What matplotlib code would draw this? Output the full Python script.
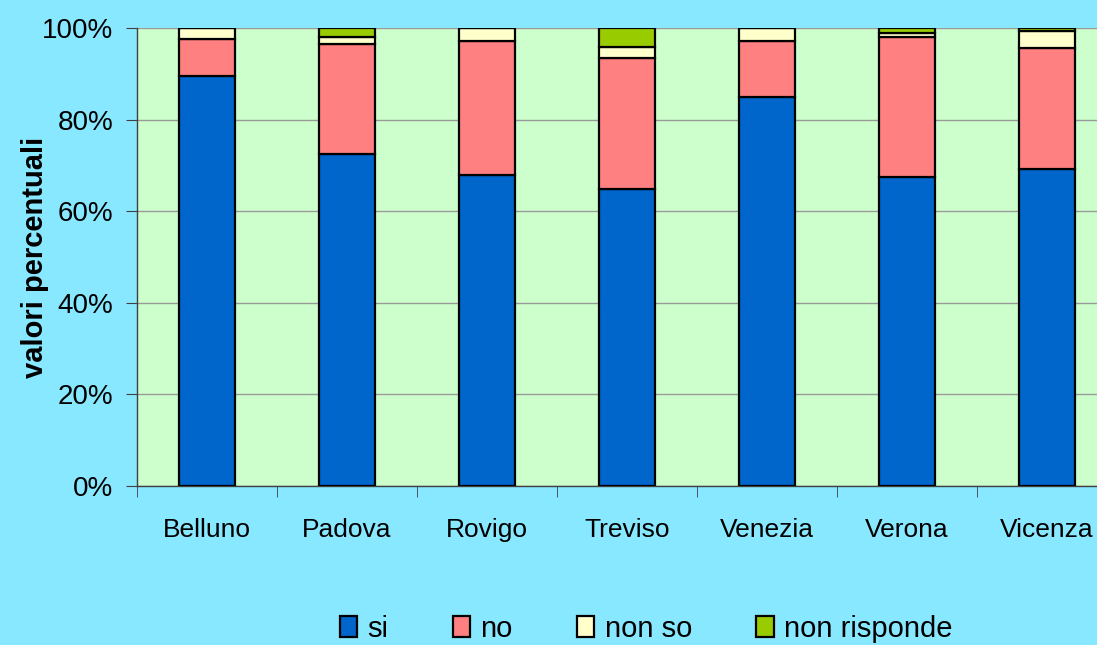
import numpy as np
from matplotlib import pyplot as plt
from matplotlib.ticker import FuncFormatter

plt.rcParams['font.family'] = ['Liberation Sans', 'DejaVu Sans']

province = ['Belluno', 'Padova', 'Rovigo', 'Treviso', 'Venezia', 'Verona', 'Vicenza']
si = [89.5, 72.5, 68.0, 64.8, 85.0, 67.5, 69.3]
no = [8.0, 24.1, 29.1, 28.6, 12.1, 30.5, 26.3]
non_so = [2.5, 1.5, 2.9, 2.4, 2.9, 0.8, 3.8]
non_risponde = [0.0, 1.9, 0.0, 4.2, 0.0, 1.2, 0.6]

series = [('si', si, '#0066CC'), ('no', no, '#FF8080'),
          ('non so', non_so, '#FFFFCC'), ('non risponde', non_risponde, '#99CC00')]

fig = plt.figure(figsize=(10.97, 6.45), dpi=100, facecolor='#88E8FF')
ax = fig.add_axes([0.1249, 0.2465, 0.8933, 0.7101])
ax.set_facecolor('#CCFFCC')

x = np.arange(len(province))
bottom = np.zeros(len(province))
for name, vals, col in series:
    vals = np.array(vals)
    ax.bar(x, vals, 0.4, bottom=bottom, color=col, edgecolor='black',
           linewidth=1.6, label=name, zorder=3)
    bottom += vals

ax.set_xlim(-0.5, len(province) - 0.5)
ax.set_ylim(0, 100)
ax.set_yticks(range(0, 101, 20))
ax.yaxis.set_major_formatter(FuncFormatter(lambda v, p: f'{v:.0f}%'))
ax.yaxis.grid(True, color='#9A9A9A', linewidth=1, zorder=0)
ax.set_xticks(x)
ax.set_xticklabels(province)
ax.set_xticks(np.arange(-0.5, len(province), 1), minor=True)
ax.tick_params(axis='x', which='major', length=0, pad=23, labelsize=19)
ax.tick_params(axis='x', which='minor', length=8, color='#404040')
ax.tick_params(axis='y', length=8, color='#404040', labelsize=20, pad=9)

for s in ['top', 'right']:
    ax.spines[s].set_visible(False)
for s in ['left', 'bottom']:
    ax.spines[s].set_color('#404040')
    ax.spines[s].set_linewidth(1)

ax.set_ylabel('valori percentuali', fontsize=21, fontweight='bold', labelpad=-5)

fig.legend(loc='center', bbox_to_anchor=(0.589, 0.025), ncol=4, frameon=False,
           fontsize=21, handlelength=0.6, handleheight=0.7, handletextpad=0.35,
           columnspacing=2.2, borderpad=0)

fig.savefig('out.png', dpi=100, facecolor=fig.get_facecolor())
